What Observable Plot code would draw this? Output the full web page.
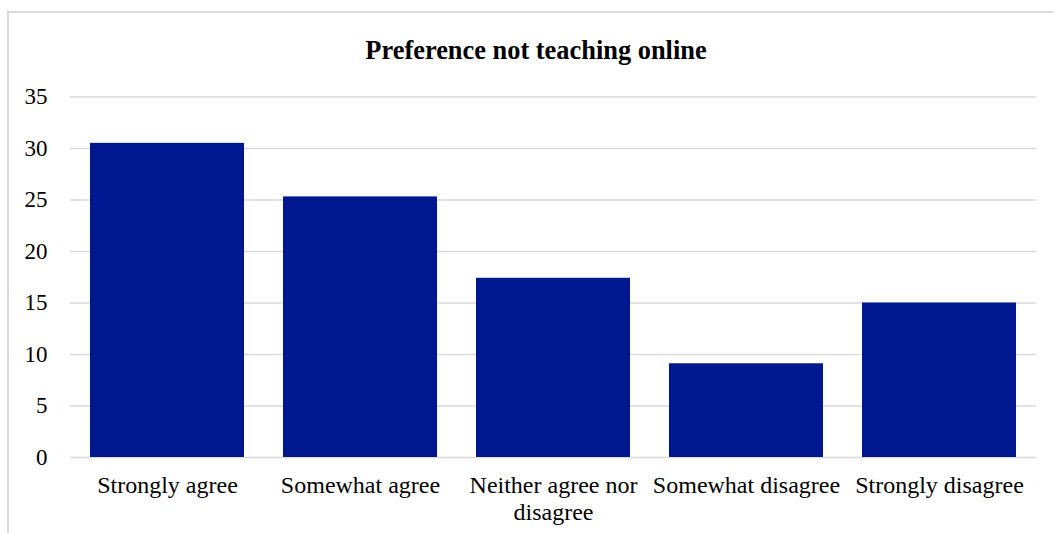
<!DOCTYPE html>
<html><head><meta charset="utf-8">
<script src="https://cdn.jsdelivr.net/npm/d3@7"></script>
<script src="https://cdn.jsdelivr.net/npm/@observablehq/plot@0.6"></script>
<style>
body{margin:0;background:#fff;width:1053px;height:533px;overflow:hidden;position:relative;font-family:"Liberation Serif","Times New Roman",serif;}
#frame{position:absolute;left:7px;top:11px;width:1100px;height:600px;border-left:2px solid #d9d9d9;border-top:2px solid #d9d9d9;}
#title{position:absolute;left:0;top:37px;width:1072px;text-align:center;font-weight:bold;font-size:26.4px;line-height:26px;color:#000;}
#chart{position:absolute;left:0;top:70px;}
#chart svg, #chart svg text{font-family:"Liberation Serif","Times New Roman",serif !important;}
</style></head><body>
<div id="frame"></div>
<div id="title">Preference not teaching online</div>
<div id="chart"></div>
<script>
const categories = ["Strongly agree","Somewhat agree","Neither agree nor disagree","Somewhat disagree","Strongly disagree"];
const categoryLabels = ["Strongly agree","Somewhat agree","Neither agree nor\ndisagree","Somewhat disagree","Strongly disagree"];
const values = [30.5, 25.3, 17.4, 9.1, 15.0];
const yTicks = [0,5,10,15,20,25,30,35];
const data = categories.map((c,i)=>({category:c, value: values[i]}));
const font = '"Liberation Serif","Times New Roman",serif';
const plot = Plot.plot({
  width:1053, height:470, marginLeft:70, marginRight:17, marginTop:26.5, marginBottom:83,
  style:{"font-family":font, "font-size":"22px", color:"#000", background:"transparent", overflow:"visible"},
  x:{domain:categories, paddingInner:0.2, paddingOuter:0.1, label:null},
  y:{domain:[0,35], label:null},
  marks:[
    Plot.gridY(yTicks,{stroke:"#d9d9d9", strokeOpacity:1, strokeWidth:1.3}),
    Plot.barY(data,{x:"category", y:"value", fill:"#00188f"}),
    Plot.axisY(yTicks,{tickSize:0, tickPadding:23, fontSize:23, fontFamily:font, label:null}),
    Plot.axisX({tickSize:0, tickPadding:16, fontSize:24, fontFamily:font, lineHeight:1.125, tickFormat: d => categoryLabels[categories.indexOf(d)], label:null})
  ]
});
document.getElementById("chart").appendChild(plot);
</script>
</body></html>
